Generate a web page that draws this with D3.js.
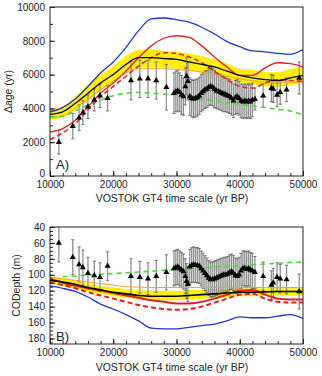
<!DOCTYPE html>
<html>
<head>
<meta charset="utf-8">
<script src="https://cdn.jsdelivr.net/npm/d3@7"></script>
<style>
  body { margin: 0; background: #fff; }
  text { font-family: "Liberation Sans", Arial, sans-serif; fill: #222; }
</style>
</head>
<body>
<div id="chart"></div>
<script>
/**
 * DATA
 * */
const lineYears = [10000, 12000, 14000, 16000, 18000, 20000, 22000, 24000, 26000, 28000, 30000,
  32000, 34000, 36000, 38000, 40000, 42000, 44000, 46000, 48000, 50000];

// panel A: delta age (yr)
const blueA = [3800, 4050, 4550, 5300, 6100, 6750, 7600, 8600, 9300, 9350, 9250, 9100, 8800, 8400, 7950, 7650, 7400, 7350, 7250, 7200, 7480];
const redA = [2600, 2800, 3300, 4100, 4900, 5500, 6200, 7000, 7700, 8150, 8300, 8200, 7700, 7050, 6450, 5950, 5950, 6400, 6700, 6650, 6450];
const redDashA = [2150, 2550, 3100, 3900, 4700, 5300, 5900, 6500, 7000, 7300, 7250, 7050, 6700, 6200, 5700, 5300, 5200, 5500, 5700, 5650, 5600];
const blackA = [3650, 3800, 4300, 4900, 5500, 6000, 6600, 7000, 7000, 6950, 6900, 6750, 6600, 6450, 6200, 5950, 5800, 5700, 5650, 5800, 5950];
const bandLoA = [3350, 3450, 3900, 4450, 5050, 5550, 6100, 6400, 6450, 6400, 6350, 6250, 6100, 5950, 5750, 5550, 5400, 5300, 5250, 5350, 5500];
const bandHiA = [3950, 4100, 4700, 5400, 6000, 6500, 7100, 7450, 7500, 7400, 7350, 7250, 7100, 6900, 6650, 6350, 6300, 6150, 6150, 6350, 6450];
const orangeA = [3450, 3550, 4000, 4550, 5100, 5600, 6100, 6350, 6350, 6350, 6300, 6250, 6150, 6000, 5900, 5750, 5650, 5550, 5550, 5550, 5550];
const greenA = [3500, 3550, 3850, 4200, 4500, 4750, 4900, 4950, 4900, 4850, 4800, 4700, 4550, 4450, 4350, 4250, 4150, 4050, 3950, 3850, 3600];

// panel B: close-off depth (m)
const blueB = [114, 117, 121, 128, 137, 143, 150, 158, 167, 168, 168, 166, 164, 162, 158, 153, 154, 154, 152, 150, 155];
const redB = [105, 110, 114, 117, 120, 123, 126, 129, 132, 134, 136, 136, 134, 130, 125, 120, 119, 125, 130, 131, 131];
const redDashB = [110, 113, 117, 122, 126, 130, 134, 138, 141, 143, 144, 143, 140, 135, 130, 125, 124, 130, 134, 135, 135];
const blackB = [107, 109, 112, 116, 119, 122, 124, 126, 127, 127, 127, 126, 125, 124, 123, 122, 122, 121.5, 121, 121, 121];
const bandLoB = [102, 104, 107, 111, 114, 116, 118, 119, 120, 120, 120, 119, 119, 118, 118, 117, 117, 117, 117, 117, 117];
const bandHiB = [111, 114, 117, 121, 124, 127, 129, 131, 132, 132, 132, 131, 130, 129, 128, 127, 127, 126, 126, 126, 126];
const orangeB = [103, 105, 107, 109, 111, 113, 115, 115.5, 116, 116, 116, 116, 116, 116, 116, 116, 116, 116, 116, 116, 116];
const greenB = [null, 102.5, 101.5, 100.5, 99.5, 98.5, 97.5, 96.5, 95.5, 94.5, 93.5, 92.5, 91.5, 90.5, 89.5, 88.5, 87.5, 86.5, 85.5, 84.5, 84];

// data points (triangles with error bars)
const ptYears = [11400, 13600, 14600, 15200, 16000, 17000, 17900, 19100, 22800, 24200, 25500, 26800, 28400,
  29600, 29900, 30200, 30500, 30800, 31100, 31400, 31600, 31800, 32100, 32400, 32700, 33000, 33300, 33600,
  33900, 34200, 34500, 34800, 35100, 35400, 35700, 36000, 36300, 36600, 36900, 37200, 37500, 37800, 38100,
  38400, 38700, 39000, 39300, 39600, 39900, 40200, 40500, 40800, 41100, 41400, 41700, 42000,
  42400, 43700, 45000, 45300, 45900, 46400, 47400, 49400];
const ptDage = [2000, 2950, 3450, 3750, 4100, 4500, 4750, 4600, 5650, 5750, 5750, 5650, 5250,
  4900, 5000, 5050, 4950, 4800, 4700, 5300, 5900, 5600, 4700, 4600, 4550, 4600, 4650, 4750,
  4900, 5000, 5100, 5150, 5250, 5300, 5250, 5150, 5050, 5000, 4950, 4900, 4850, 4800, 4750,
  4700, 4600, 4450, 4650, 4700, 4600, 4450, 4400, 4450, 4400, 4450, 4400, 4500,
  4550, 4750, 5200, 5150, 4800, 4950, 5100, 5800];
const ptDageErr = [700, 750, 750, 700, 700, 650, 700, 750, 1150, 1100, 1100, 1100, 1350,
  1200, 1200, 1200, 1150, 1150, 1100, 1100, 1100, 1100, 1100, 1100, 1100, 1100, 1100, 1100,
  1100, 1100, 1100, 1100, 1100, 1100, 1100, 1100, 1050, 1050, 1050, 1050, 1050, 1000, 1000,
  1000, 1000, 1000, 1000, 1000, 1000, 1000, 1000, 1000, 1000, 1000, 1000, 1000,
  650, 700, 800, 800, 700, 700, 700, 950];
const ptDepth = [60, 78, 87, 91, 98, 101, 103, 89, 102, 103, 105, 102, 97,
  92, 91, 90, 92, 94, 96, 102, 108, 112, 90, 88, 87, 88, 88, 89,
  92, 95, 98, 101, 104, 106, 106, 105, 104, 103, 102, 101, 100, 100, 99,
  97, 96, 98, 101, 102, 100, 95, 92, 92, 93, 92, 94, 95,
  97, 102, 113, 110, 103, 105, 106, 121];
const ptDepthErr = [24, 22, 22, 22, 20, 18, 18, 18, 22, 20, 20, 20, 22,
  22, 22, 22, 22, 22, 22, 22, 22, 22, 22, 22, 22, 22, 22, 22,
  22, 22, 22, 22, 22, 22, 22, 22, 22, 22, 22, 22, 22, 22, 22,
  22, 22, 22, 22, 22, 22, 22, 22, 22, 22, 22, 22, 22,
  20, 18, 18, 18, 18, 18, 18, 22];

const xTicks = [10000, 20000, 30000, 40000, 50000];
const yTicksA = [0, 2000, 4000, 6000, 8000, 10000];
const yTicksB = [40, 60, 80, 100, 120, 140, 160, 180];

/**
 * CONSTANTS AND GLOBALS
 * */
const width = 322, height = 376;
const left = 50, right = 303;

const svg = d3.select("#chart").append("svg")
  .attr("width", width)
  .attr("height", height);

const x = d3.scaleLinear().domain([10000, 50000]).range([left, right]);
const yA = d3.scaleLinear().domain([0, 10000]).range([176, 7]);
const yB = d3.scaleLinear().domain([40, 187]).range([227, 344]);

const points = ptYears.map((t, i) => ({
  t, dage: ptDage[i], dageErr: ptDageErr[i], depth: ptDepth[i], depthErr: ptDepthErr[i]
}));

drawPanel({
  y: yA, yTicks: yTicksA, yMinor: d3.range(0, 10001, 1000), label: "A)", labelY: 169,
  yTitle: "\u0394age (yr)", yTitleX: 12, xTitleY: 202,
  band: [bandLoA, bandHiA], orange: orangeA, green: greenA, blue: blueA,
  red: redA, redDash: redDashA, black: blackA,
  val: d => d.dage, err: d => d.dageErr, thick: false
});

drawPanel({
  y: yB, yTicks: yTicksB, yMinor: d3.range(40, 188, 5), label: "B)", labelY: 341,
  yTitle: "CODepth (m)", yTitleX: 20, xTitleY: 371,
  band: [bandLoB, bandHiB], orange: orangeB, green: greenB, blue: blueB,
  red: redB, redDash: redDashB, black: blackB,
  val: d => d.depth, err: d => d.depthErr, thick: true
});

function drawPanel(p) {
  const [r0, r1] = p.y.range();
  const top = Math.min(r0, r1), bottom = Math.max(r0, r1);
  const g = svg.append("g");

  const clipId = "clip" + p.label[0];
  g.append("clipPath").attr("id", clipId)
    .append("rect").attr("x", left).attr("y", top)
    .attr("width", right - left).attr("height", bottom - top);

  const plot = g.append("g").attr("clip-path", `url(#${clipId})`);

  const line = vals => d3.line()
    .defined(d => d != null)
    .x((d, i) => x(lineYears[i]))
    .y(d => p.y(d))
    .curve(d3.curveMonotoneX)(vals);

  // yellow uncertainty band
  const area = d3.area()
    .x((d, i) => x(lineYears[i]))
    .y0((d, i) => p.y(p.band[0][i]))
    .y1((d, i) => p.y(p.band[1][i]))
    .curve(d3.curveMonotoneX);
  plot.append("path").attr("d", area(lineYears)).attr("fill", "#ffee10");

  // error bars
  const bars = plot.append("g");
  bars.selectAll("line.bar").data(points).join("line")
    .attr("class", "bar")
    .attr("x1", d => x(d.t)).attr("x2", d => x(d.t))
    .attr("y1", d => p.y(p.val(d) - p.err(d)))
    .attr("y2", d => p.y(p.val(d) + p.err(d)))
    .attr("stroke", "#8f8f8f").attr("stroke-width", 1.3);
  ["lo", "hi"].forEach(k => {
    const sign = k == "lo" ? -1 : 1;
    bars.selectAll("line.cap" + k).data(points).join("line")
      .attr("class", "cap" + k)
      .attr("x1", d => x(d.t) - 1.6).attr("x2", d => x(d.t) + 1.6)
      .attr("y1", d => p.y(p.val(d) + sign * p.err(d)))
      .attr("y2", d => p.y(p.val(d) + sign * p.err(d)))
      .attr("stroke", "#555").attr("stroke-width", 0.8);
  });

  // model curves
  plot.append("path").attr("d", line(p.orange)).attr("fill", "none")
    .attr("stroke", "#f0a040").attr("stroke-width", 1);
  plot.append("path").attr("d", line(p.green)).attr("fill", "none")
    .attr("stroke", "#4cd83c").attr("stroke-width", 1.6).attr("stroke-dasharray", "5,4");
  plot.append("path").attr("d", line(p.blue)).attr("fill", "none")
    .attr("stroke", "#2233cc").attr("stroke-width", 1.3);
  plot.append("path").attr("d", line(p.red)).attr("fill", "none")
    .attr("stroke", "#e02020").attr("stroke-width", p.thick ? 2 : 1.3);
  plot.append("path").attr("d", line(p.redDash)).attr("fill", "none")
    .attr("stroke", "#e02020").attr("stroke-width", p.thick ? 2 : 1.5).attr("stroke-dasharray", "5,3");
  plot.append("path").attr("d", line(p.black)).attr("fill", "none")
    .attr("stroke", "#000").attr("stroke-width", p.thick ? 1.6 : 1.3);

  // triangles
  plot.selectAll("path.pt").data(points).join("path")
    .attr("class", "pt")
    .attr("transform", d => `translate(${x(d.t)},${p.y(p.val(d))})`)
    .attr("d", d3.symbol(d3.symbolTriangle, 16))
    .attr("fill", "#000");

  // frame
  g.append("rect").attr("x", left).attr("y", top)
    .attr("width", right - left).attr("height", bottom - top)
    .attr("fill", "none").attr("stroke", "#222").attr("stroke-width", 1);

  // axes with inward ticks
  g.append("g").attr("transform", `translate(0,${bottom})`)
    .call(d3.axisBottom(x).tickValues(xTicks).tickSize(-5).tickPadding(5).tickFormat(d3.format("d")));
  g.append("g").attr("transform", `translate(0,${bottom})`)
    .call(d3.axisBottom(x).tickValues(d3.range(10000, 50001, 2000)).tickSize(-3).tickFormat(""));
  const yAxis = g.append("g").attr("transform", `translate(${left},0)`)
    .call(d3.axisLeft(p.y).tickValues(p.yTicks).tickSize(-5).tickPadding(5).tickFormat(d3.format("d")));
  g.append("g").attr("transform", `translate(${left},0)`)
    .call(d3.axisLeft(p.y).tickValues(p.yMinor).tickSize(-3).tickFormat(""));

  // lift the bottom "0" a touch so it clears the x labels
  yAxis.selectAll(".tick text").filter(d => d === 0).attr("dy", "0.05em");

  g.selectAll(".domain").remove();
  g.selectAll(".tick line").attr("stroke", "#222");
  g.selectAll(".tick text").attr("font-size", 10).attr("fill", "#222")
    .style("font-family", "'Liberation Sans', Arial, sans-serif");

  // titles
  g.append("text").attr("x", 172).attr("y", p.xTitleY)
    .attr("text-anchor", "middle").attr("font-size", 10.5)
    .text("VOSTOK GT4 time scale (yr BP)");
  g.append("text")
    .attr("transform", `translate(${p.yTitleX},${(top + bottom) / 2}) rotate(-90)`)
    .attr("text-anchor", "middle").attr("font-size", 10.5)
    .text(p.yTitle);
  g.append("text").attr("x", 56).attr("y", p.labelY)
    .attr("font-size", 13).text(p.label);
}
</script>
</body>
</html>
